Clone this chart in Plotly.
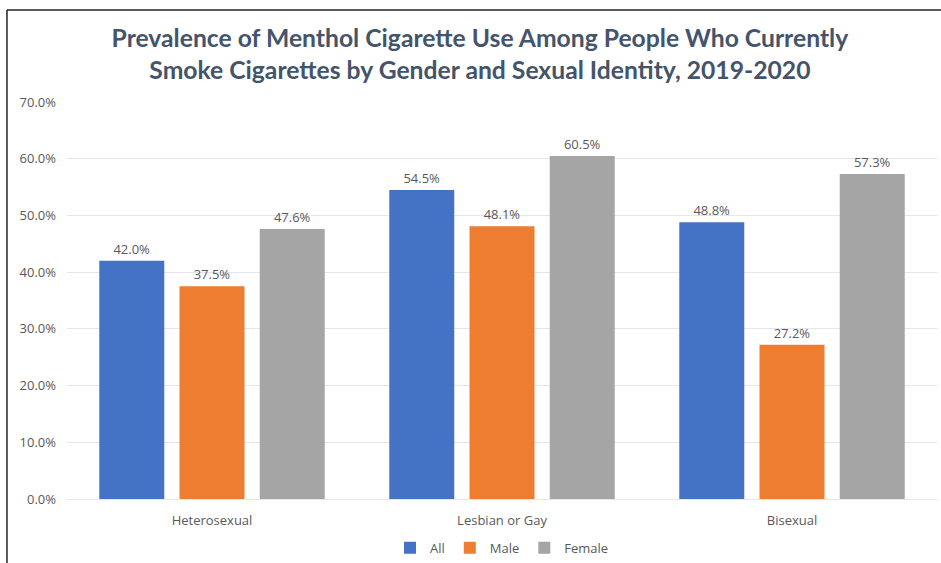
import plotly.graph_objects as go

categories = ["Heterosexual", "Lesbian or Gay", "Bisexual"]
series_names = ["All", "Male", "Female"]
all_vals = [42.0, 54.5, 48.8]
male_vals = [37.5, 48.1, 27.2]
female_vals = [47.6, 60.5, 57.3]
colors = ["#4472c4", "#ed7d31", "#a5a5a5"]
y_ticks = [0, 10, 20, 30, 40, 50, 60, 70]
y_tick_labels = [f"{v:.1f}%" for v in y_ticks]

fig = go.Figure()
for name, vals, col in zip(series_names, [all_vals, male_vals, female_vals], colors):
    fig.add_trace(go.Bar(
        x=categories, y=vals, name=name,
        marker=dict(color=col, line=dict(width=0)),
        text=[f"{v:.1f}%" for v in vals],
        textposition="outside",
        textfont=dict(family="Open Sans", size=13, color="#595959"),
        cliponaxis=False,
    ))

fig.update_layout(
    width=941, height=563,
    paper_bgcolor="white", plot_bgcolor="white",
    margin=dict(l=67, r=4, t=102, b=64, autoexpand=False),
    barmode="group", bargap=0.17, bargroupgap=0.19,
    title=dict(
        text="Prevalence of Menthol Cigarette Use Among People Who Currently<br>Smoke Cigarettes by Gender and Sexual Identity, 2019-2020",
        x=0.51, xanchor="center", xref="container", yref="container",
        y=0.917, yanchor="middle",
        font=dict(family="Lato", size=24.7, color="#44546a", weight="bold"),
    ),
    xaxis=dict(
        tickfont=dict(family="Open Sans", size=13, color="#595959"),
        showline=True, linecolor="#e3e6ee", linewidth=1,
        ticks="", showgrid=False, ticklabelstandoff=9,
    ),
    yaxis=dict(
        range=[0, 70], tickvals=y_ticks, ticktext=y_tick_labels,
        tickfont=dict(family="Open Sans", size=13, color="#595959"),
        showgrid=True, gridcolor="#e3e6ee", gridwidth=1,
        zeroline=False, ticks="", ticklabelstandoff=10,
    ),
    legend=dict(
        orientation="h", x=0.5, xanchor="center", y=-0.123, yanchor="middle",
        font=dict(family="Open Sans", size=13, color="#595959"),
        itemwidth=30, traceorder="normal",
    ),
    shapes=[
        dict(type="line", xref="paper", yref="paper", x0=-0.069, x1=-0.069, y0=1.232, y1=-0.2,
             line=dict(color="#222222", width=1.5)),
        dict(type="line", xref="paper", yref="paper", x0=-0.069, x1=1.01, y0=1.232, y1=1.232,
             line=dict(color="#222222", width=1.5)),
    ],
)

fig.write_html("out.html")
